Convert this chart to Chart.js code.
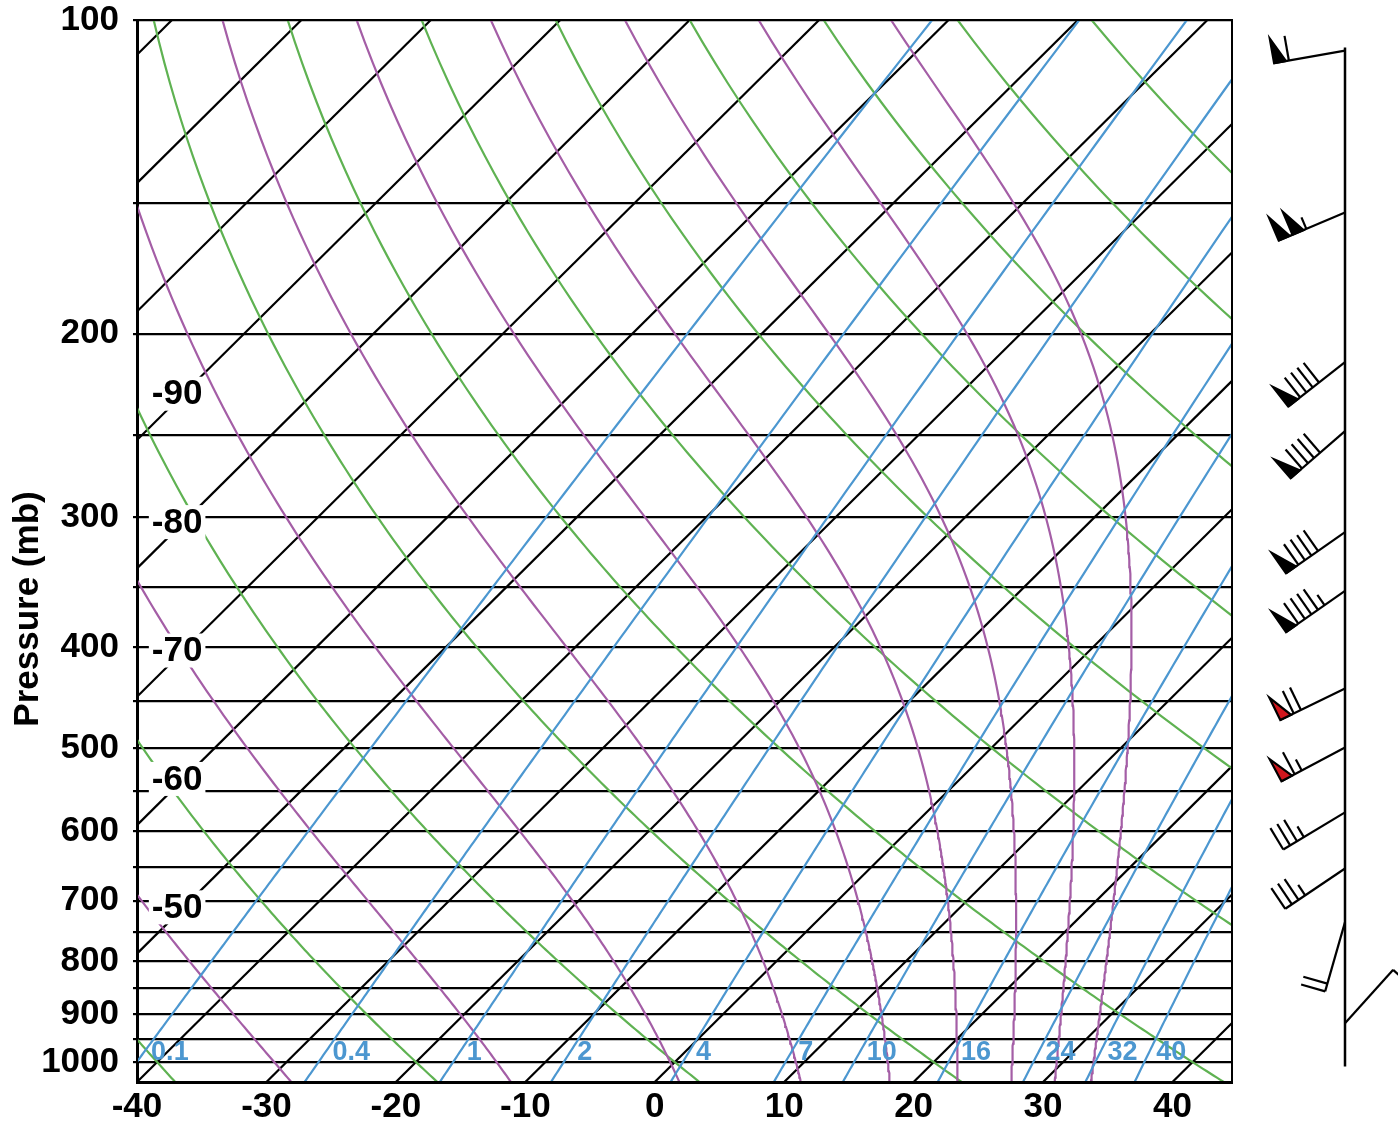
<!DOCTYPE html>
<html>
<head>
<meta charset="utf-8">
<title>Skew-T</title>
<script src="https://cdn.jsdelivr.net/npm/chart.js@4.4.0/dist/chart.umd.min.js"></script>
<style>
  html, body { margin: 0; padding: 0; background: #fff; }
</style>
</head>
<body>
<canvas id="skewt" width="1398" height="1126"></canvas>
<script>
// ---- diagram values ----
const isobars = [100, 150, 200, 250, 300, 350, 400, 450, 500, 550, 600, 650, 700, 750, 800, 850, 900, 950, 1000];
const pressureLabels = [100, 200, 300, 400, 500, 600, 700, 800, 900, 1000];
const tempTicks = [-40, -30, -20, -10, 0, 10, 20, 30, 40];
const isotherms = [-120, -110, -100, -90, -80, -70, -60, -50, -40, -30, -20, -10, 0, 10, 20, 30, 40];
const isothermLabels = [-90, -80, -70, -60, -50];
const dryAdiabats = [-40, -20, 0, 20, 40, 60, 80, 100, 120, 140, 160];   // theta, degC
const moistAdiabats = [243, 263, 283, 303, 323, 343, 363, 383, 403];     // theta-e, K
const mixingRatios = [0.1, 0.4, 1, 2, 4, 7, 10, 16, 24, 32, 40];         // g/kg

// wind barbs (pressure mb, direction deg, speed kt)
const windPressure = [107, 153, 213, 248, 310, 353, 438, 499, 576, 652, 734, 918];
const windDir = [260, 247, 232, 229, 235, 235, 244, 242, 239, 236, 196, 42];
const windSpeed = [60, 105, 90, 90, 90, 95, 70, 65, 35, 35, 20, 10];
const windRedPennant = [438, 499];
const surfacePressure = 1010;

const pBottom = 1045, pTop = 100;
const tMin = -40, tMax = 44.6;
const skew = 81.15; // degC of shift per decade of pressure

const green = '#5fb252';
const purple = '#a45ea6';
const blue = '#4c97d0';
const font = 'Arial, "Liberation Sans", Helvetica, sans-serif';

// skewed x position for a temperature at a pressure
function skewX(t, p) {
    return t + skew * Math.log10(pBottom / p);
}

function satVap(t) {
    return 6.112 * Math.exp(17.67 * t / (t + 243.5));
}

function dewFromVap(e) {
    const ln = Math.log(e / 6.112);
    return 243.5 * ln / (17.67 - ln);
}

// Bolton theta-e of a saturated parcel
function thetaE(t, p) {
    const tk = t + 273.15;
    const e = satVap(t);
    const r = 622 * e / (p - e);
    return tk * Math.pow(1000 / p, 0.2854 * (1 - 0.00028 * r)) *
        Math.exp((3.376 / tk - 0.00254) * r * (1 + 0.00081 * r));
}

function moistT(te, p) {
    let lo = -170;
    let hi = dewFromVap(0.6 * p);
    for (let i = 0; i < 50; i++) {
        const mid = (lo + hi) / 2;
        if (thetaE(mid, p) > te) hi = mid; else lo = mid;
    }
    return (lo + hi) / 2;
}

// pressure steps used to trace the curved lines
const levels = [];
for (let p = pBottom; p > pTop; p -= 5) levels.push(p);
levels.push(pTop);

function lineSet(points, color, width) {
    return {
        data: points,
        showLine: true,
        borderColor: color,
        borderWidth: width,
        pointRadius: 0,
        fill: false,
        tension: 0
    };
}

const datasets = [];

mixingRatios.forEach(w => {
    const pts = levels.map(p => {
        const e = w * p / (622 + w);
        return { x: skewX(dewFromVap(e), p), y: p };
    });
    datasets.push(lineSet(pts, blue, 2.2));
});

moistAdiabats.forEach(te => {
    const pts = levels.map(p => ({ x: skewX(moistT(te, p), p), y: p }));
    datasets.push(lineSet(pts, purple, 2.2));
});

dryAdiabats.forEach(th => {
    const pts = levels.map(p => ({ x: skewX((th + 273.15) * Math.pow(p / 1000, 0.286) - 273.15, p), y: p }));
    datasets.push(lineSet(pts, green, 2.2));
});

isotherms.forEach(t => {
    const pts = [{ x: skewX(t, pBottom), y: pBottom }, { x: skewX(t, pTop), y: pTop }];
    datasets.push(lineSet(pts, '#000', 2.2));
});

function drawBarb(ctx, x0, y0, dir, speed, pennantFill) {
    const rad = dir * Math.PI / 180;
    const dx = Math.sin(rad), dy = -Math.cos(rad);
    const fx = -dy, fy = dx;
    const len = 72, flen = 25, gap = 8, base = 12;
    const tipX = x0 + dx * len, tipY = y0 + dy * len;
    const at = d => [tipX - dx * d, tipY - dy * d];

    ctx.strokeStyle = '#000';
    ctx.lineWidth = 2.2;
    ctx.beginPath();
    ctx.moveTo(x0, y0);
    ctx.lineTo(tipX, tipY);
    ctx.stroke();

    let n50 = Math.floor(speed / 50);
    let rest = speed - n50 * 50;
    let n10 = Math.floor(rest / 10);
    let n5 = rest - n10 * 10 >= 5 ? 1 : 0;
    let pos = 0;

    for (let i = 0; i < n50; i++) {
        const a = at(pos), c = at(pos + base);
        ctx.beginPath();
        ctx.moveTo(a[0], a[1]);
        ctx.lineTo(a[0] + fx * flen, a[1] + fy * flen);
        ctx.lineTo(c[0], c[1]);
        ctx.closePath();
        ctx.fillStyle = pennantFill;
        ctx.fill();
        ctx.stroke();
        pos += base + 3;
    }
    for (let i = 0; i < n10; i++) {
        const a = at(pos);
        ctx.beginPath();
        ctx.moveTo(a[0], a[1]);
        ctx.lineTo(a[0] + fx * flen, a[1] + fy * flen);
        ctx.stroke();
        pos += gap;
    }
    if (n5) {
        if (n50 === 0 && n10 === 0) pos = gap;
        const a = at(pos);
        ctx.beginPath();
        ctx.moveTo(a[0], a[1]);
        ctx.lineTo(a[0] + fx * flen / 2, a[1] + fy * flen / 2);
        ctx.stroke();
    }
}

const decorPlugin = {
    id: 'decor',
    afterDatasetsDraw(chart) {
        const ctx = chart.ctx;
        const area = chart.chartArea;
        const xs = chart.scales.x, ys = chart.scales.y;
        ctx.save();

        // frame
        ctx.strokeStyle = '#000';
        ctx.lineWidth = 2;
        ctx.strokeRect(area.left, area.top, area.right - area.left, area.bottom - area.top);

        // mixing ratio labels
        ctx.fillStyle = blue;
        ctx.font = 'bold 27px ' + font;
        ctx.textAlign = 'left';
        ctx.textBaseline = 'middle';
        const labelP = 978;
        mixingRatios.forEach(w => {
            const e = w * labelP / (622 + w);
            const px = xs.getPixelForValue(skewX(dewFromVap(e), labelP));
            ctx.fillText(String(w), px + 7, ys.getPixelForValue(labelP) + 1);
        });

        // isotherm labels on white boxes
        ctx.font = 'bold 35px ' + font;
        ctx.textAlign = 'center';
        isothermLabels.forEach(t => {
            const p = pBottom / Math.pow(10, (-36.4 - t) / skew);
            const py = ys.getPixelForValue(p);
            const px = xs.getPixelForValue(-36.9);
            const txt = String(t);
            const w = ctx.measureText(txt).width + 6;
            ctx.fillStyle = '#fff';
            ctx.fillRect(px - w / 2, py - 17, w, 34);
            ctx.fillStyle = '#000';
            ctx.fillText(txt, px, py + 1);
        });

        // axis title
        ctx.save();
        ctx.translate(28, 609);
        ctx.rotate(-Math.PI / 2);
        ctx.font = 'bold 35px ' + font;
        ctx.fillStyle = '#000';
        ctx.textAlign = 'center';
        ctx.textBaseline = 'middle';
        ctx.fillText('Pressure (mb)', 0, 0);
        ctx.restore();

        // wind barb staff
        const wx = area.right + 113;
        ctx.strokeStyle = '#000';
        ctx.lineWidth = 2.5;
        ctx.beginPath();
        ctx.moveTo(wx, ys.getPixelForValue(windPressure[0]) - 3);
        ctx.lineTo(wx, ys.getPixelForValue(surfacePressure));
        ctx.stroke();

        windPressure.forEach((p, i) => {
            const fill = windRedPennant.includes(p) ? '#d0161d' : '#000';
            drawBarb(ctx, wx, ys.getPixelForValue(p), windDir[i], windSpeed[i], fill);
        });

        ctx.restore();
    }
};

new Chart(document.getElementById('skewt'), {
    type: 'scatter',
    data: { datasets: datasets },
    options: {
        responsive: false,
        devicePixelRatio: 1,
        animation: false,
        events: [],
        layout: { padding: { left: 0, right: 166, top: 20, bottom: 0 } },
        plugins: {
            legend: { display: false },
            tooltip: { enabled: false }
        },
        scales: {
            x: {
                type: 'linear',
                min: tMin,
                max: tMax,
                afterBuildTicks: s => { s.ticks = tempTicks.map(v => ({ value: v })); },
                afterFit: s => { s.height = 44; s.paddingLeft = 0; s.paddingRight = 0; },
                grid: { display: false, drawTicks: false },
                border: { display: true, color: '#000', width: 3 },
                ticks: {
                    color: '#000',
                    font: { family: font, size: 35, weight: 'bold' },
                    padding: 4,
                    maxRotation: 0,
                    autoSkip: false
                }
            },
            y: {
                type: 'logarithmic',
                min: pTop,
                max: pBottom,
                reverse: true,
                afterBuildTicks: s => { s.ticks = isobars.map(v => ({ value: v })); },
                afterFit: s => { s.width = 137; s.paddingTop = 0; s.paddingBottom = 0; },
                grid: { color: '#000', lineWidth: 2.2, drawTicks: true, tickLength: 4 },
                border: { display: true, color: '#000', width: 3 },
                ticks: {
                    color: '#000',
                    font: { family: font, size: 35, weight: 'bold' },
                    padding: 14,
                    autoSkip: false,
                    callback: v => pressureLabels.includes(v) ? String(v) : ''
                }
            }
        }
    },
    plugins: [decorPlugin]
});
</script>
</body>
</html>
